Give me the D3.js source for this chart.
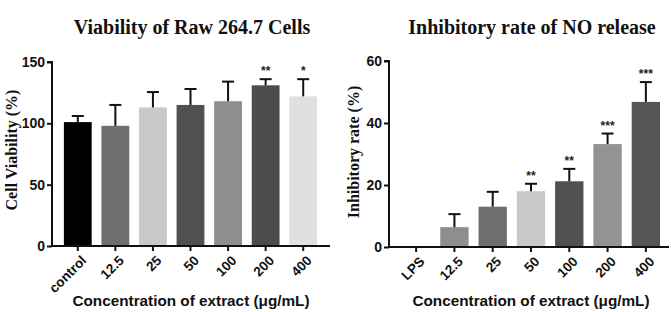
<!DOCTYPE html>
<html>
<head>
<meta charset="utf-8">
<script src="https://cdn.jsdelivr.net/npm/d3@7"></script>
<style>
  body { margin: 0; background: #fff; }
  .tick text { font-family: Arial, 'Liberation Sans', sans-serif; font-weight: bold; }
</style>
</head>
<body>
<div id="chart"></div>
<script>
const viabCats = ['control', '12.5', '25', '50', '100', '200', '400']
const viabMeans = [101, 98, 113, 115, 118, 131, 122]
const viabErrs = [5, 17, 12.5, 13, 16, 5, 14]
const viabStars = ['', '', '', '', '', '**', '*']
const viabColors = ['#000000', '#6e6e6e', '#c9c9c9', '#505050', '#8e8e8e', '#4c4c4c', '#e0e0e0']

const noCats = ['LPS', '12.5', '25', '50', '100', '200', '400']
const noMeans = [0, 6.4, 13, 18, 21.2, 33.2, 46.8]
const noErrs = [0, 4.2, 4.8, 2.4, 4, 3.4, 6.4]
const noStars = ['', '', '', '**', '**', '***', '***']
const noColors = ['#ffffff', '#8e8e8e', '#6e6e6e', '#c9c9c9', '#505050', '#939393', '#555555']

const W = 671
const H = 312

const svg = d3.select('#chart').append('svg')
  .attr('width', W)
  .attr('height', H)

const panel = (opts) => {
  const g = svg.append('g')
  const x = d3.scaleBand()
    .domain(opts.cats)
    .range(opts.xRange)
    .paddingInner(0.26)
    .paddingOuter(0.13)
  const y = d3.scaleLinear()
    .domain([0, opts.yMax])
    .range([opts.bottom, opts.top])

  const rows = opts.cats.map((c, i) => ({
    cat: c, v: opts.means[i], e: opts.errs[i], s: opts.stars[i], col: opts.colors[i]
  }))

  // bars
  g.selectAll('rect.bar')
    .data(rows.filter(d => d.v > 0))
    .enter().append('rect')
    .attr('class', 'bar')
    .attr('x', d => x(d.cat))
    .attr('width', x.bandwidth())
    .attr('y', d => y(d.v))
    .attr('height', d => y(0) - y(d.v))
    .attr('fill', d => d.col)

  // error bars (upper only)
  const eb = g.selectAll('g.err')
    .data(rows.filter(d => d.e > 0))
    .enter().append('g')
    .attr('class', 'err')
  eb.append('line')
    .attr('x1', d => x(d.cat) + x.bandwidth() / 2)
    .attr('x2', d => x(d.cat) + x.bandwidth() / 2)
    .attr('y1', d => y(d.v))
    .attr('y2', d => y(d.v + d.e))
    .attr('stroke', '#111')
    .attr('stroke-width', 2)
  eb.append('line')
    .attr('x1', d => x(d.cat) + x.bandwidth() / 2 - 6)
    .attr('x2', d => x(d.cat) + x.bandwidth() / 2 + 6)
    .attr('y1', d => y(d.v + d.e))
    .attr('y2', d => y(d.v + d.e))
    .attr('stroke', '#111')
    .attr('stroke-width', 2)

  // significance stars
  g.selectAll('text.star')
    .data(rows.filter(d => d.s))
    .enter().append('text')
    .attr('class', 'star')
    .attr('x', d => x(d.cat) + x.bandwidth() / 2)
    .attr('y', d => y(d.v + d.e) - 4)
    .attr('text-anchor', 'middle')
    .attr('font-family', 'Arial, sans-serif')
    .attr('font-size', 12)
    .attr('font-weight', 'bold')
    .attr('fill', '#222')
    .text(d => d.s)

  // y axis
  const yAxis = g.append('g')
    .attr('transform', `translate(${opts.axisX},0)`)
    .call(d3.axisLeft(y).tickValues(opts.yTicks).tickSize(5).tickPadding(2))
  yAxis.selectAll('path, line').attr('stroke', '#111').attr('stroke-width', 2)
  yAxis.select('.domain').attr('d', `M${-5},${opts.top}H0V${opts.bottom}`)
  yAxis.selectAll('.tick text').attr('font-size', 14).attr('fill', '#111')

  // x axis
  const xAxis = g.append('g')
    .attr('transform', `translate(0,${opts.bottom})`)
    .call(d3.axisBottom(x).tickSize(5).tickSizeOuter(0))
  xAxis.selectAll('path, line').attr('stroke', '#111').attr('stroke-width', 2)
  xAxis.select('.domain').attr('d', `M${opts.axisX},0H${opts.xEnd}`)
  xAxis.selectAll('.tick text')
    .attr('font-size', 13.5)
    .attr('fill', '#111')
    .attr('text-anchor', 'end')
    .attr('dy', '0.35em')
    .attr('transform', 'translate(6,12) rotate(-45)')
    .attr('y', 0)
    .attr('x', 0)

  // title
  g.append('text')
    .attr('x', opts.titleX)
    .attr('y', 34)
    .attr('text-anchor', 'middle')
    .attr('font-family', "'Liberation Serif', 'Times New Roman', serif")
    .attr('font-weight', 'bold')
    .attr('font-size', 20)
    .attr('fill', '#111')
    .text(opts.title)

  // y label
  g.append('text')
    .attr('transform', `translate(${opts.yLabelX},${opts.yLabelY}) rotate(-90)`)
    .attr('text-anchor', 'middle')
    .attr('font-family', "'Liberation Serif', 'Times New Roman', serif")
    .attr('font-weight', 'bold')
    .attr('font-size', 16)
    .attr('fill', '#111')
    .text(opts.yLabel)

  // x label
  g.append('text')
    .attr('x', opts.xLabelX)
    .attr('y', 306)
    .attr('text-anchor', 'middle')
    .attr('font-family', 'Arial, sans-serif')
    .attr('font-weight', 'bold')
    .attr('font-size', 15.3)
    .attr('fill', '#111')
    .text('Concentration of extract (μg/mL)')
}

panel({
  cats: viabCats, means: viabMeans, errs: viabErrs, stars: viabStars, colors: viabColors,
  xRange: [59, 322], yMax: 150, yTicks: [0, 50, 100, 150],
  top: 62, bottom: 246, axisX: 52, xEnd: 330,
  title: 'Viability of Raw 264.7 Cells', titleX: 192,
  yLabel: 'Cell Viability (%)', yLabelX: 17, yLabelY: 150, xLabelX: 191
})

panel({
  cats: noCats, means: noMeans, errs: noErrs, stars: noStars, colors: noColors,
  xRange: [397, 665], yMax: 60, yTicks: [0, 20, 40, 60],
  top: 61, bottom: 247, axisX: 389, xEnd: 669,
  title: 'Inhibitory rate of NO release', titleX: 532,
  yLabel: 'Inhibitory rate (%)', yLabelX: 359, yLabelY: 152, xLabelX: 531
})
</script>
</body>
</html>
